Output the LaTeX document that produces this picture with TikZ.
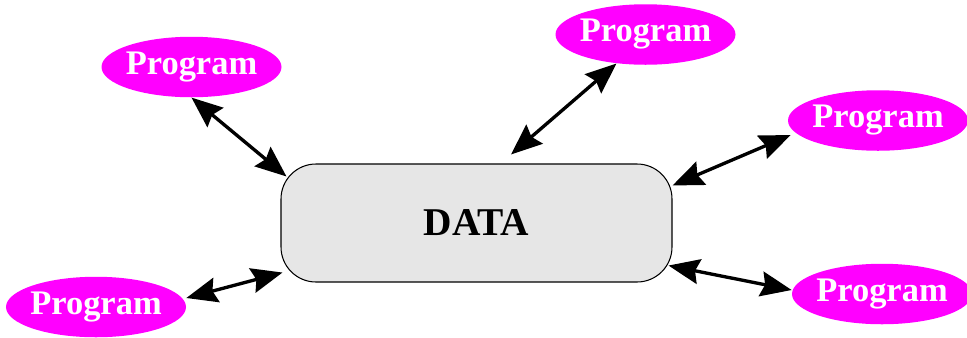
\documentclass[tikz,border=0pt]{standalone}
\usepackage{fontspec}
\setmainfont{Liberation Serif}
\usetikzlibrary{arrows.meta, positioning, shapes.geometric}
\definecolor{progmagenta}{HTML}{FF00FF}
\definecolor{datagray}{HTML}{E6E6E6}

\begin{document}
\begin{tikzpicture}[
    every node/.style={font=\bfseries},
    progbox/.style={ellipse, fill=progmagenta, text=white, inner xsep=-1.6pt, inner ysep=0pt,
        minimum width=3.6cm, minimum height=1.21cm, font=\bfseries\fontsize{19.6}{21}\selectfont},
    databox/.style={rectangle, rounded corners=0.7cm, draw=black, line width=0.6pt, fill=datagray,
        minimum width=7.82cm, minimum height=2.36cm, font=\bfseries\fontsize{22.4}{24}\selectfont},
    link/.style={line width=1.9pt, {Stealth[length=0.62cm,width=0.5cm,inset=0.08cm]}-{Stealth[length=0.62cm,width=0.5cm,inset=0.08cm]}},
]
\useasboundingbox (0,0) rectangle (19.34,6.74);
% central store
\node[databox] (data) at (9.53,2.28) {DATA};
% programs round it
\node[progbox] (prog1) at (3.83,5.40) {Program};
\node[progbox] (prog2) at (12.91,6.05) {Program};
\node[progbox] (prog3) at (17.56,4.33) {Program};
\node[progbox] (prog4) at (17.64,0.86) {Program};
\node[progbox] (prog5) at (1.92,0.60) {Program};
% two-way links
\draw[link] (prog1.south) -- ([shift={(0.12,-0.26)}]data.north west);
\draw[link] (prog2.225) -- ([shift={(0.69,0.18)}]data.north);
\draw[link] ([shift={(0.06,-0.29)}]prog3.west) -- ([yshift=-0.44cm]data.north east);
\draw[link] ([yshift=0.08cm]prog4.west) -- ([shift={(-0.08,0.34)}]data.south east);
\draw[link] ([yshift=0.18cm]prog5.east) -- ([shift={(0.04,0.2)}]data.south west);
\end{tikzpicture}
\end{document}
